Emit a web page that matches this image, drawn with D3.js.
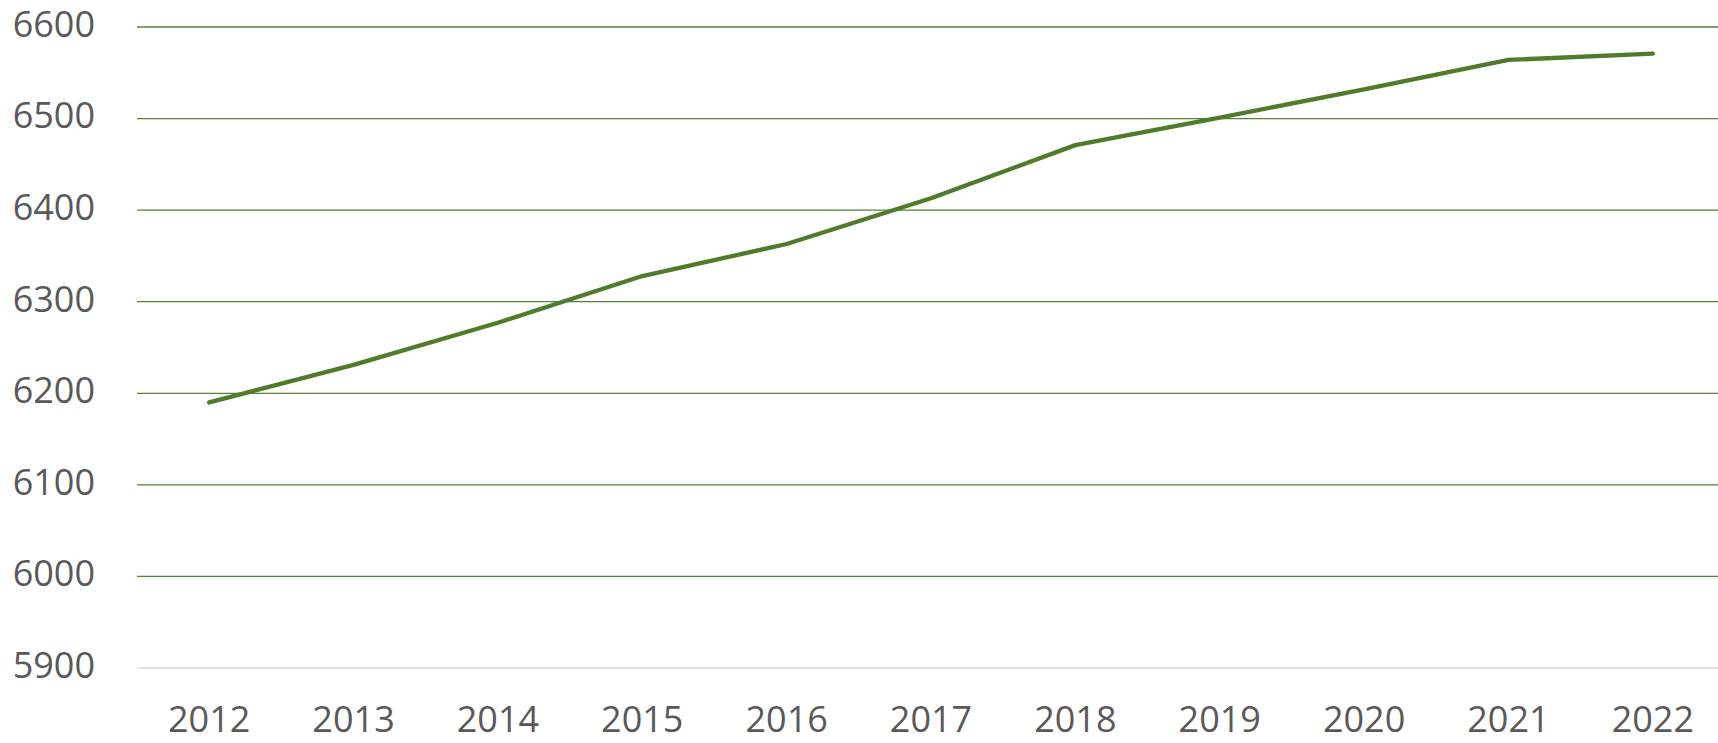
<!DOCTYPE html>
<html>
<head>
<meta charset="utf-8">
<script src="https://cdn.jsdelivr.net/npm/d3@7"></script>
<style>
  html, body { margin: 0; padding: 0; background: #fff; }
  svg { display: block; }
  .tick text { font-family: "Open Sans", Lato, sans-serif; fill: #595959; }
</style>
</head>
<body>
<div id="chart"></div>
<script>
// values
var years = ["2012", "2013", "2014", "2015", "2016", "2017", "2018", "2019", "2020", "2021", "2022"];
var values = [6190, 6231, 6277, 6328, 6363, 6413, 6471, 6501, 6532, 6564, 6571];
var yTicks = [5900, 6000, 6100, 6200, 6300, 6400, 6500, 6600];

var W = 1718, H = 743;
var margin = {top: 27, right: -7, bottom: 75, left: 137};
var graph_w = W - margin.left - margin.right;
var graph_h = H - margin.top - margin.bottom;

var svg = d3.select("#chart").append("svg")
	.attr("width", W)
	.attr("height", H);
var g = svg.append("g")
	.attr("transform", "translate(" + margin.left + "," + margin.top + ")");

var x = d3.scaleBand()
	.domain(years)
	.range([0, graph_w])
	.padding(0);

var y = d3.scaleLinear()
	.domain([5900, 6600])
	.range([graph_h, 0]);

// gridlines
g.append("g")
	.attr("class", "grid")
	.selectAll("line")
	.data(yTicks)
	.enter().append("line")
	.attr("x1", 0)
	.attr("x2", graph_w)
	.attr("y1", function(d) { return y(d); })
	.attr("y2", function(d) { return y(d); })
	.attr("stroke", function(d) { return d == 5900 ? "#d9d9d9" : "#548235"; })
	.attr("stroke-width", 1.3);

// y axis labels
var yAxis = d3.axisLeft(y).tickValues(yTicks).tickSize(0).tickPadding(42).tickFormat(d3.format("d"));
g.append("g")
	.attr("class", "y axis")
	.call(yAxis)
	.call(function(s) { s.select(".domain").remove(); })
	.selectAll("text")
	.attr("font-size", 36)
	.attr("dy", "0.26em");

// x axis labels
var xAxis = d3.axisBottom(x).tickSize(0).tickPadding(38);
g.append("g")
	.attr("class", "x axis")
	.attr("transform", "translate(0," + graph_h + ")")
	.call(xAxis)
	.call(function(s) { s.select(".domain").remove(); })
	.selectAll("text")
	.attr("font-size", 36);

var line = d3.line()
	.x(function(d, i) { return x(years[i]) + x.bandwidth() / 2; })
	.y(function(d) { return y(d); });

g.append("path")
	.datum(values)
	.attr("fill", "none")
	.attr("stroke", "#4f7b2b")
	.attr("stroke-width", 4.3)
	.attr("stroke-linecap", "round")
	.attr("stroke-linejoin", "round")
	.attr("d", line);
</script>
</body>
</html>
